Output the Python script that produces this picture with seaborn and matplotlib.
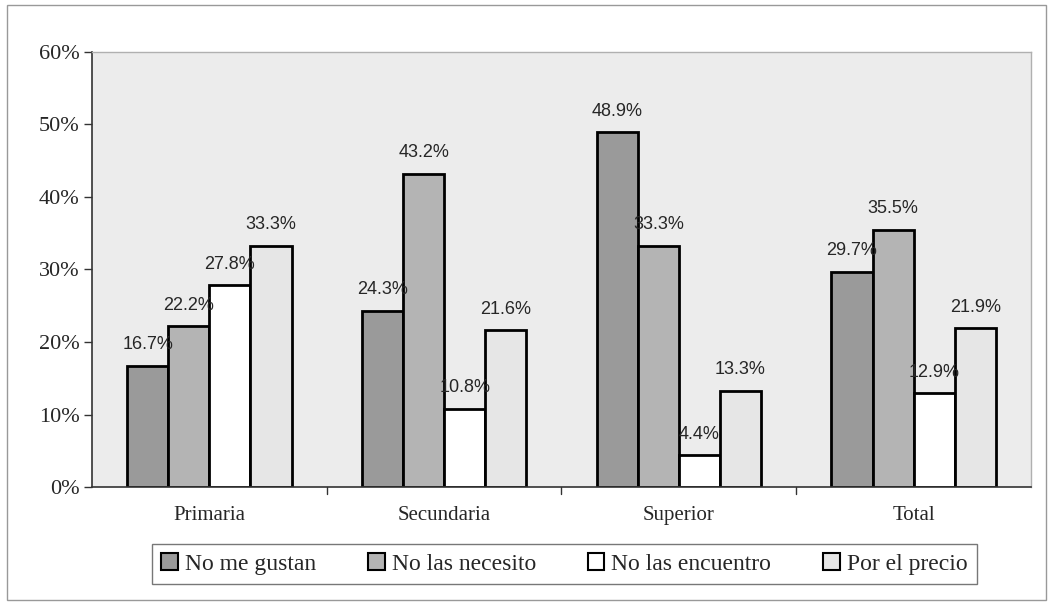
import pandas as pd
import matplotlib
matplotlib.use('Agg')
import matplotlib.pyplot as plt
import seaborn as sns
from matplotlib.patches import Rectangle

niveles = ['Primaria', 'Secundaria', 'Superior', 'Total']
motivos = ['No me gustan', 'No las necesito', 'No las encuentro', 'Por el precio']
no_me_gustan = [16.7, 24.3, 48.9, 29.7]
no_las_necesito = [22.2, 43.2, 33.3, 35.5]
no_las_encuentro = [27.8, 10.8, 4.4, 12.9]
por_el_precio = [33.3, 21.6, 13.3, 21.9]
y_ticks = [0, 10, 20, 30, 40, 50, 60]

series = [no_me_gustan, no_las_necesito, no_las_encuentro, por_el_precio]
rows = []
for m, vals in zip(motivos, series):
    for n, v in zip(niveles, vals):
        rows.append({'nivel': n, 'motivo': m, 'valor': v})
df = pd.DataFrame(rows)

sns.set_style('white')
plt.rcParams['font.family'] = ['Liberation Serif', 'DejaVu Serif']

colores = ['#9a9a9a', '#b4b4b4', '#ffffff', '#e6e6e6']

fig = plt.figure(figsize=(10.51, 6.10), dpi=100)
ax = fig.add_axes([0.0875, 0.2016, 0.8935, 0.7132])

sns.barplot(data=df, x='nivel', y='valor', hue='motivo', order=niveles,
            hue_order=motivos, palette=colores, width=0.70,
            edgecolor='black', linewidth=2, saturation=1, ax=ax, legend=True)

ax.set_facecolor('#ececec')
ax.set_ylim(0, 60)
ax.set_xlim(-0.5, 3.5)
ax.set_yticks(y_ticks)
ax.set_yticklabels([f'{t}%' for t in y_ticks], fontsize=16)
ax.set_xticks(range(len(niveles)))
ax.set_xticklabels(niveles, fontsize=15)
ax.tick_params(axis='x', length=0, pad=14)
ax.tick_params(axis='y', length=6, width=1, color='#333333', direction='out', left=True, pad=3)
for b in [0.5, 1.5, 2.5]:
    ax.plot([b, b], [0, -0.9], color='#333333', lw=1, clip_on=False)
ax.set_xlabel('')
ax.set_ylabel('')
for side in ['top', 'right']:
    ax.spines[side].set_color('#b0b0b0')
    ax.spines[side].set_linewidth(1)
for side in ['left', 'bottom']:
    ax.spines[side].set_color('#333333')
    ax.spines[side].set_linewidth(1.2)

for cont in ax.containers:
    ax.bar_label(cont, labels=[f'{v:.1f}%' for v in cont.datavalues],
                 padding=9, fontsize=13, family=['Liberation Sans', 'DejaVu Sans'])

leg = ax.legend(loc='center', bbox_to_anchor=(0.537, 0.0754), bbox_transform=fig.transFigure,
                ncol=4, fontsize=17, frameon=True, fancybox=False, edgecolor='#555555',
                handlelength=0.7, handleheight=0.7, handletextpad=0.3, columnspacing=2.2,
                borderpad=0.4)
leg.get_frame().set_linewidth(1)
for h in leg.legend_handles:
    h.set_edgecolor('black')
    h.set_linewidth(1.5)

fig.patches.append(Rectangle((0.007, 0.016), 0.988, 0.975, transform=fig.transFigure,
                             fill=False, edgecolor='#999999', lw=1))

fig.savefig('out.png', dpi=100, facecolor='white')
